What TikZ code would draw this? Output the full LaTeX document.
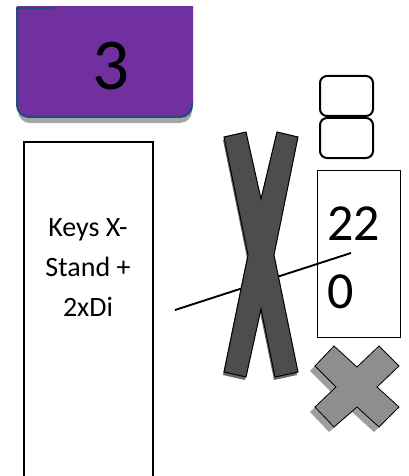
\documentclass[tikz,border=0pt]{standalone}
\usepackage{fontspec}
\setmainfont{Carlito}
\definecolor{tabpurple}{HTML}{7030A0}
\definecolor{tabedge}{HTML}{1F4E79}
\definecolor{tabshadow}{HTML}{A6A6A6}
\definecolor{xfill}{HTML}{4D4D4D}
\definecolor{crossfill}{HTML}{8E8E8E}
\definecolor{crossshadow}{HTML}{9E9E9E}
\begin{document}
\begin{tikzpicture}[x=1pt,y=-1pt,
  tallbox/.style={draw, line width=1.5pt, minimum width=129pt, minimum height=340pt, inner sep=0pt},
  numbox/.style={draw, line width=1pt, minimum width=83pt, minimum height=167pt, inner sep=0pt},
  roundsq/.style={draw, line width=2pt, rounded corners=7pt, minimum width=53pt, minimum height=40pt, inner sep=0pt},
  link/.style={line width=1.9pt}]
\useasboundingbox (0,0) rectangle (408,476);

% purple tab
\begin{scope}
  \clip (0,7) rectangle (193,140);
  \fill[tabshadow, rounded corners=12pt] (18,-20) rectangle (192,123);
  \fill[tabpurple, rounded corners=12pt] (17,-20) rectangle (193,117);
\end{scope}
\draw[tabedge, line width=2pt, rounded corners=12pt] (17,7) -- (17,117) -- (192,117) -- (192,103);
\draw[tabedge, line width=2pt] (17,8) -- (53,8);
\node[anchor=base, inner sep=0pt, font=\fontsize{73}{80}\selectfont] (num) at (111,90) {3};

% tall box
\node[tallbox] (keys) at (88.5,312) {};
\node[anchor=base, align=center, inner sep=0pt, font=\fontsize{28}{40}\selectfont] (keystext) at (88,316) {Keys X-\\Stand +\\2xDi};

% number box
\node[numbox] (vbox) at (358.5,253.5) {};
\node[anchor=base west, align=left, inner sep=0pt, font=\fontsize{52}{68}\selectfont] (vtext) at (327,308) {22\\0};

% connector line
\coordinate (ls) at (175,310);
\coordinate (le) at (351,253);
\draw[link] (ls) -- (le);

% X shape
\def\xpath{(224,137) -- (246,132) -- (261,199) -- (277,132) -- (298,137) -- (274,255) -- (298,372) -- (275,377) -- (261,309) -- (246,377) -- (224,372) -- (248,255) -- cycle}
\fill[black, opacity=0.6, xshift=-1pt, yshift=-3pt] \xpath;
\filldraw[fill=xfill, draw=black, line width=1pt] \xpath;

% grey cross
\def\cpath{(334,346) -- (357,367) -- (379,346) -- (399,366) -- (377,387) -- (399,407) -- (379,427) -- (357,407) -- (334,427) -- (315,407) -- (336,387) -- (315,366) -- cycle}
\fill[crossshadow, xshift=-5pt, yshift=-5pt] \cpath;
\filldraw[fill=crossfill, draw=black, line width=0.8pt] \cpath;

% stacked rounded squares
\node[roundsq] (sqa) at (346.5,96) {};
\node[roundsq] (sqb) at (346.5,138) {};
\end{tikzpicture}
\end{document}
